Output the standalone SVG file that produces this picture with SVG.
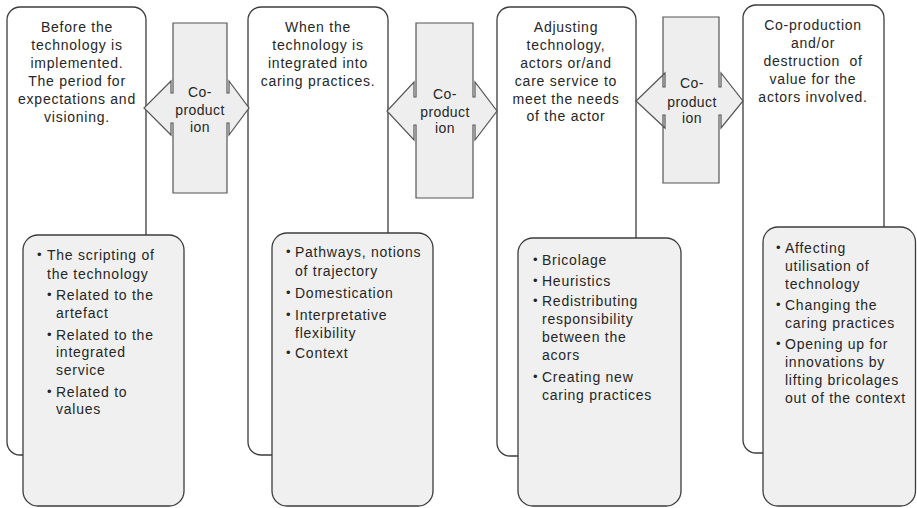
<svg xmlns="http://www.w3.org/2000/svg" width="917" height="508" viewBox="0 0 917 508">
  <style>
    .outer { fill: #ffffff; stroke: #3c3c3c; stroke-width: 1.3; }
    .inner { fill: #f0f0f0; stroke: #3c3c3c; stroke-width: 1.3; }
    .arrow { fill: #eeeeee; stroke: #555555; stroke-width: 1.2; stroke-linejoin: miter; }
    text { font-family: "Liberation Sans", Arial, sans-serif; font-size: 14px; fill: #262626; letter-spacing: 0.75px; }
    .c { text-anchor: middle; }
    .a { text-anchor: middle; letter-spacing: 0.4px; }
    .b { font-size: 13px; }
  </style>

  <!-- Stage 1 -->
  <g id="stage1">
    <rect class="outer" x="7" y="7" width="139" height="448" rx="13"/>
    <text class="c" x="77" y="32">Before the</text>
    <text class="c" x="77" y="50">technology is</text>
    <text class="c" x="77" y="68">implemented.</text>
    <text class="c" x="77" y="86">The period for</text>
    <text class="c" x="77" y="104">expectations and</text>
    <text class="c" x="77" y="122">visioning.</text>
  </g>
  <g id="stage1-details">
    <rect class="inner" x="23" y="235" width="161" height="271" rx="15"/>
    <text class="b" x="37" y="259">•</text>
    <text x="47" y="260">The scripting of</text>
    <text x="47" y="279">the technology</text>
    <text class="b" x="47" y="299">•</text>
    <text x="56" y="300">Related to the</text>
    <text x="56" y="318">artefact</text>
    <text class="b" x="47" y="339">•</text>
    <text x="56" y="340">Related to the</text>
    <text x="56" y="357">integrated</text>
    <text x="56" y="375">service</text>
    <text class="b" x="47" y="396">•</text>
    <text x="56" y="397">Related to</text>
    <text x="56" y="414">values</text>
  </g>

  <!-- Stage 2 -->
  <g id="stage2">
    <rect class="outer" x="248" y="7" width="140" height="448" rx="13"/>
    <text class="c" x="318" y="32">When the</text>
    <text class="c" x="318" y="50">technology is</text>
    <text class="c" x="318" y="68">integrated into</text>
    <text class="c" x="318" y="86">caring practices.</text>
  </g>
  <g id="stage2-details">
    <rect class="inner" x="272" y="233" width="161" height="273" rx="15"/>
    <text class="b" x="286" y="256">•</text>
    <text x="295" y="257">Pathways, notions</text>
    <text x="295" y="276">of trajectory</text>
    <text class="b" x="286" y="297">•</text>
    <text x="295" y="298">Domestication</text>
    <text class="b" x="286" y="319">•</text>
    <text x="295" y="320">Interpretative</text>
    <text x="295" y="338">flexibility</text>
    <text class="b" x="286" y="357">•</text>
    <text x="295" y="358">Context</text>
  </g>

  <!-- Stage 3 -->
  <g id="stage3">
    <rect class="outer" x="497" y="7" width="139" height="449" rx="13"/>
    <text class="c" x="566" y="32">Adjusting</text>
    <text class="c" x="566" y="50">technology,</text>
    <text class="c" x="566" y="68">actors or/and</text>
    <text class="c" x="566" y="86">care service to</text>
    <text class="c" x="566" y="104">meet the needs</text>
    <text class="c" x="566" y="121">of the actor</text>
  </g>
  <g id="stage3-details">
    <rect class="inner" x="518" y="238" width="163" height="268" rx="15"/>
    <text class="b" x="533" y="264">•</text>
    <text x="542" y="265">Bricolage</text>
    <text class="b" x="533" y="285">•</text>
    <text x="542" y="286">Heuristics</text>
    <text class="b" x="533" y="305">•</text>
    <text x="542" y="306">Redistributing</text>
    <text x="542" y="324">responsibility</text>
    <text x="542" y="342">between the</text>
    <text x="542" y="360">acors</text>
    <text class="b" x="533" y="381">•</text>
    <text x="542" y="382">Creating new</text>
    <text x="542" y="400">caring practices</text>
  </g>

  <!-- Stage 4 -->
  <g id="stage4">
    <rect class="outer" x="743" y="5" width="141" height="448" rx="13"/>
    <text class="c" x="813" y="30">Co-production</text>
    <text class="c" x="813" y="48">and/or</text>
    <text class="c" x="813" y="66" xml:space="preserve">destruction  of</text>
    <text class="c" x="813" y="84">value for the</text>
    <text class="c" x="813" y="102">actors involved.</text>
  </g>
  <g id="stage4-details">
    <rect class="inner" x="763" y="227" width="152.5" height="279" rx="15"/>
    <text class="b" x="776" y="252">•</text>
    <text x="785" y="253">Affecting</text>
    <text x="785" y="271">utilisation of</text>
    <text x="785" y="289">technology</text>
    <text class="b" x="776" y="309">•</text>
    <text x="785" y="310">Changing the</text>
    <text x="785" y="328">caring practices</text>
    <text class="b" x="776" y="348">•</text>
    <text x="785" y="349">Opening up for</text>
    <text x="785" y="367">innovations by</text>
    <text x="785" y="385">lifting bricolages</text>
    <text x="785" y="403">out of the context</text>
  </g>

  <!-- Two-way co-production arrows between the stages -->
  <g id="connectors">
    <g id="coproduction-1">
      <path class="arrow" d="M173,23 H227 V93 H229 V81 L249,108 L229,135 V123 H227 V193 H173 V123 H171 V135 L144,108 L171,81 V93 H173 Z"/>
      <text class="a" x="200" y="97">Co-</text>
      <text class="a" x="200" y="115">product</text>
      <text class="a" x="200" y="132">ion</text>
    </g>
    <g id="coproduction-2">
      <path class="arrow" d="M416,23 H473 V97 H475 V82 L497,111 L475,140 V125 H473 V198 H416 V125 H414 V140 L387,111 L414,82 V97 H416 Z"/>
      <text class="a" x="445" y="99">Co-</text>
      <text class="a" x="445" y="117">product</text>
      <text class="a" x="445" y="133">ion</text>
    </g>
    <g id="coproduction-3">
      <path class="arrow" d="M663,17 H719 V87 H721 V73 L743,101 L721,128 V115 H719 V183 H663 V115 H665 V128 L636,101 L665,73 V87 H663 Z"/>
      <text class="a" x="692" y="88">Co-</text>
      <text class="a" x="692" y="107">product</text>
      <text class="a" x="692" y="123">ion</text>
    </g>
  </g>
</svg>
